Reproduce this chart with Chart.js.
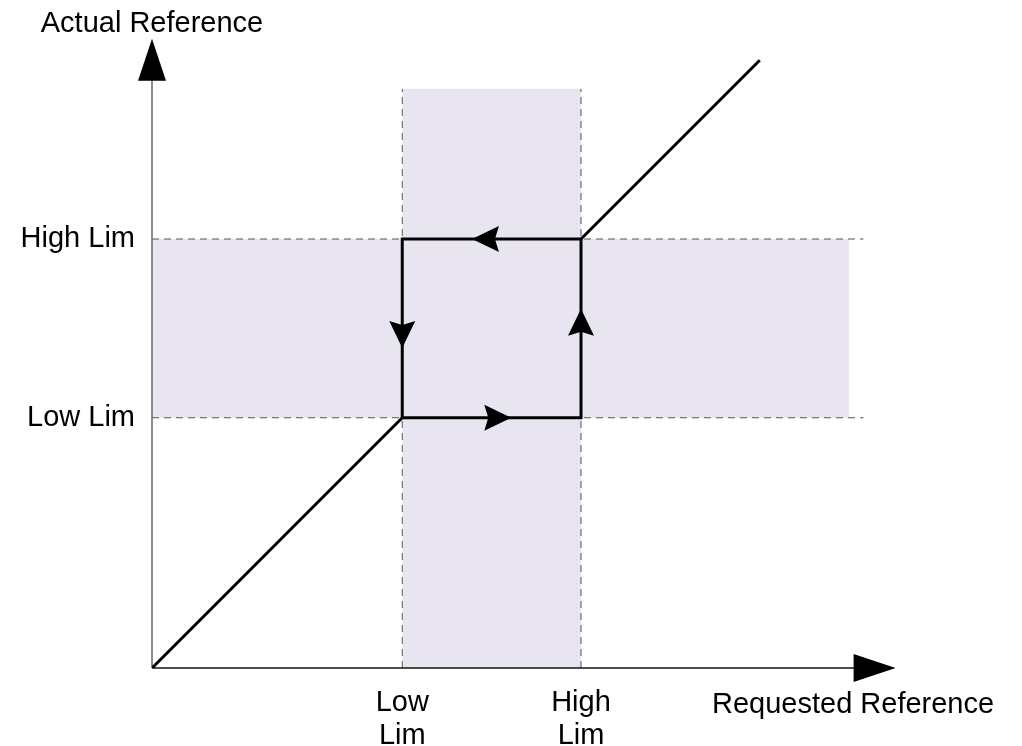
<!DOCTYPE html>
<html>
<head>
<meta charset="utf-8">
<script src="https://cdn.jsdelivr.net/npm/chart.js@4"></script>
<style>
  html, body { margin: 0; padding: 0; background: #fff; }
  #wrap { width: 1022px; height: 746px; position: relative; }
</style>
</head>
<body>
<div id="wrap"><canvas id="hysteresisChart"></canvas></div>
<script>
// ===================
// Data
// ===================

const xTickValues = [3.5, 6];
const xTickLabels = [['Low', 'Lim'], ['High', 'Lim']];
const yTickValues = [3.5, 6];
const yTickLabels = ['Low Lim', 'High Lim'];

// straight 1:1 line, outside the limits
const lowerLineX = [0, 3.5];
const lowerLineY = [0, 3.5];
const upperLineX = [6, 8.5];
const upperLineY = [6, 8.5];

// hysteresis loop, in the direction of the arrows
const loopX = [3.5, 6, 6, 3.5, 3.5];
const loopY = [3.5, 3.5, 6, 6, 3.5];

// shaded bands and dashed guides
const bandTop = 8.1;
const bandRight = 9.75;
const guideTop = 8.1;
const guideRight = 9.95;

// axis ends (arrow tips)
const xAxisEnd = 10.4;
const yAxisEnd = 8.8;

const FONT = '"Liberation Sans", Arial, sans-serif';
const SHADE = '#e9e5f0';

function pts(xs, ys) {
	return xs.map((v, i) => ({ x: v, y: ys[i] }));
}

// ===================
// Arrows + titles
// ===================

function arrowHead(ctx, tx, ty, ang, len, half, notch) {
	ctx.save();
	ctx.translate(tx, ty);
	ctx.rotate(ang);
	ctx.beginPath();
	ctx.moveTo(0, 0);
	ctx.lineTo(-len, -half);
	ctx.lineTo(-len + notch, 0);
	ctx.lineTo(-len, half);
	ctx.closePath();
	ctx.fill();
	ctx.restore();
}

const arrowPlugin = {
	id: 'arrows',
	afterDatasetsDraw(chart) {
		const ctx = chart.ctx;
		const x = chart.scales.x, y = chart.scales.y;
		ctx.save();
		ctx.fillStyle = '#000';

		// axis arrowheads
		arrowHead(ctx, x.getPixelForValue(0), y.getPixelForValue(yAxisEnd), -Math.PI / 2, 42, 14, 0);
		arrowHead(ctx, x.getPixelForValue(xAxisEnd), y.getPixelForValue(0), 0, 42, 14, 0);

		// loop arrowheads
		for (let i = 0; i < loopX.length - 1; i++) {
			const x0 = x.getPixelForValue(loopX[i]), y0 = y.getPixelForValue(loopY[i]);
			const x1 = x.getPixelForValue(loopX[i + 1]), y1 = y.getPixelForValue(loopY[i + 1]);
			const f = 0.61;
			arrowHead(ctx, x0 + (x1 - x0) * f, y0 + (y1 - y0) * f, Math.atan2(y1 - y0, x1 - x0), 27, 13, 4);
		}

		// axis titles
		ctx.font = '29px ' + FONT;
		ctx.fillStyle = '#000';
		ctx.textBaseline = 'alphabetic';
		ctx.textAlign = 'center';
		ctx.fillText('Actual Reference', x.getPixelForValue(0), 32);
		ctx.textAlign = 'left';
		ctx.fillText('Requested Reference', 712, 713);
		ctx.restore();
	}
};

// ===================
// Chart
// ===================

const line = (data, extra) => Object.assign({
	data: data,
	borderColor: '#000',
	borderWidth: 3,
	pointRadius: 0,
	tension: 0,
	fill: false,
	borderJoinStyle: 'miter'
}, extra);

const dashed = (data) => line(data, { borderColor: '#555', borderWidth: 1, borderDash: [7, 5], order: 4 });

var ctx = document.getElementById('hysteresisChart').getContext('2d');
var chart = new Chart(ctx, {
	type: 'line',
	data: {
		datasets: [
			line(pts(lowerLineX, lowerLineY), { order: 1 }),
			line(pts(upperLineX, upperLineY), { order: 1 }),
			line(pts(loopX, loopY), { order: 1 }),
			// axes
			line(pts([0, xAxisEnd - 0.4], [0, 0]), { borderColor: '#111', borderWidth: 1.5, clip: false, order: 2 }),
			line(pts([0, 0], [0, yAxisEnd - 0.4]), { borderColor: '#666', borderWidth: 1.5, clip: false, order: 2 }),
			// guides
			dashed(pts([xTickValues[0], xTickValues[0]], [0, guideTop])),
			dashed(pts([xTickValues[1], xTickValues[1]], [0, guideTop])),
			dashed(pts([0, guideRight], [yTickValues[0], yTickValues[0]])),
			dashed(pts([0, guideRight], [yTickValues[1], yTickValues[1]])),
			// shaded bands
			line(pts(xTickValues, [bandTop, bandTop]), {
				borderWidth: 0, borderColor: 'rgba(0,0,0,0)', backgroundColor: SHADE, fill: 'origin', order: 5
			}),
			line(pts([0, bandRight], [yTickValues[1], yTickValues[1]]), {
				borderWidth: 0, borderColor: 'rgba(0,0,0,0)', backgroundColor: SHADE, fill: { value: yTickValues[0] }, order: 5
			})
		]
	},
	options: {
		responsive: true,
		maintainAspectRatio: false,
		animation: false,
		events: [],
		layout: {
			autoPadding: false,
			padding: { left: 0, right: 12, top: 24.5, bottom: 0 }
		},
		plugins: {
			legend: { display: false },
			tooltip: { enabled: false }
		},
		scales: {
			x: {
				type: 'linear',
				min: 0,
				max: 12,
				grid: { display: false, drawTicks: false },
				border: { display: false },
				afterBuildTicks: (s) => { s.ticks = xTickValues.map(v => ({ value: v })); },
				afterFit: (s) => { s.height = 78; s.paddingLeft = 0; s.paddingRight = 0; },
				ticks: {
					autoSkip: false,
					maxRotation: 0,
					padding: 18,
					color: '#000',
					font: { family: FONT, size: 29, lineHeight: 1.16 },
					callback: (v, i) => xTickLabels[i]
				}
			},
			y: {
				type: 'linear',
				min: 0,
				max: 9,
				grid: { display: false, drawTicks: false },
				border: { display: false },
				afterBuildTicks: (s) => { s.ticks = yTickValues.map(v => ({ value: v })); },
				afterFit: (s) => { s.width = 152; s.paddingTop = 0; s.paddingBottom = 0; },
				ticks: {
					autoSkip: false,
					padding: 17,
					color: '#000',
					font: { family: FONT, size: 29 },
					callback: (v, i) => yTickLabels[i]
				}
			}
		}
	},
	plugins: [arrowPlugin]
});
</script>
</body>
</html>
